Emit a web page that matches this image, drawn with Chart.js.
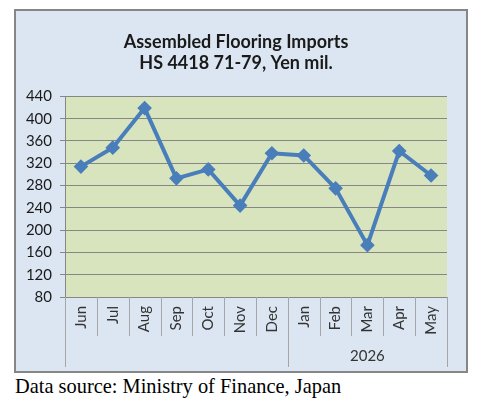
<!DOCTYPE html>
<html>
<head>
<meta charset="utf-8">
<script src="https://cdn.jsdelivr.net/npm/chart.js@4.4.0/dist/chart.umd.min.js"></script>
<style>
  html, body { margin: 0; padding: 0; background: #fff; }
  body { width: 483px; height: 407px; position: relative; overflow: hidden; }
  #box {
    position: absolute; left: 14px; top: 9px;
    width: 450px; height: 360px;
    border: 2px solid #868686;
    background: #dce6f2;
  }
  #note {
    position: absolute; left: 15px; top: 375px;
    font-family: "Liberation Serif", "Times New Roman", serif;
    font-size: 20.4px; color: #000; white-space: nowrap;
  }
</style>
</head>
<body>
<div id="box"><canvas id="importsChart" width="450" height="360"></canvas></div>
<div id="note">Data source: Ministry of Finance, Japan</div>
<script>
// Data
const months = ['Jun', 'Jul', 'Aug', 'Sep', 'Oct', 'Nov', 'Dec', 'Jan', 'Feb', 'Mar', 'Apr', 'May'];
const imports = [314, 348, 419, 293, 309, 244, 338, 334, 275, 173, 342, 298];
const yearGroups = [
  { label: '', from: 0, to: 6 },
  { label: '2026', from: 7, to: 11 }
];

// Plot area background
const plotBackground = {
  id: 'plotBackground',
  beforeDraw(chart) {
    const { ctx, chartArea: a } = chart;
    ctx.save();
    ctx.fillStyle = '#d7e4bd';
    ctx.fillRect(a.left, a.top, a.right - a.left, a.bottom - a.top);
    ctx.restore();
  }
};

// Category separators and the year row under the month labels
const groupedAxis = {
  id: 'groupedAxis',
  afterDraw(chart) {
    const { ctx, chartArea: a } = chart;
    const x = chart.scales.x;
    const half = (x.getPixelForValue(1) - x.getPixelForValue(0)) / 2;
    const edge = i => Math.round(x.getPixelForValue(i) - half) + 0.5;
    ctx.save();
    ctx.strokeStyle = '#a6a6a6';
    ctx.lineWidth = 1;
    ctx.beginPath();
    for (let i = 0; i <= months.length; i++) {
      ctx.moveTo(edge(i), a.bottom);
      ctx.lineTo(edge(i), a.bottom + 39);
    }
    yearGroups.forEach(g => {
      [g.from, g.to + 1].forEach(i => {
        ctx.moveTo(edge(i), a.bottom + 39);
        ctx.lineTo(edge(i), a.bottom + 70);
      });
    });
    ctx.stroke();
    ctx.fillStyle = '#333';
    ctx.font = '15px Lato, "Open Sans", sans-serif';
    ctx.textAlign = 'center';
    ctx.textBaseline = 'middle';
    yearGroups.forEach(g => {
      if (!g.label) return;
      const cx = (x.getPixelForValue(g.from) + x.getPixelForValue(g.to)) / 2;
      ctx.fillText(g.label, cx, a.bottom + 59);
    });
    ctx.restore();
  }
};

new Chart(document.getElementById('importsChart'), {
  type: 'line',
  data: {
    labels: months,
    datasets: [{
      label: 'Imports',
      data: imports,
      borderColor: '#4a7ebb',
      backgroundColor: '#4a7ebb',
      borderWidth: 4,
      tension: 0,
      pointStyle: 'rectRot',
      pointRadius: 4.5,
      pointHoverRadius: 4.5
    }]
  },
  options: {
    responsive: false,
    animation: false,
    layout: { padding: { left: 9, right: 19, top: 0, bottom: 0 } },
    plugins: {
      legend: { display: false },
      tooltip: { enabled: false },
      title: {
        display: true,
        text: ['Assembled Flooring Imports', 'HS 4418 71-79, Yen mil.'],
        color: '#1a1a1a',
        font: { family: 'Lato, "Open Sans", sans-serif', size: 18, weight: 'bold', lineHeight: 1.15 },
        padding: { top: 21, bottom: 23 }
      }
    },
    scales: {
      x: {
        offset: true,
        grid: { display: false, drawTicks: false },
        border: { display: false },
        ticks: {
          color: '#333',
          font: { family: 'Lato, "Open Sans", sans-serif', size: 15 },
          minRotation: 90,
          maxRotation: 90,
          padding: 9,
          autoSkip: false
        },
        afterFit(s) { s.height = 74; }
      },
      y: {
        min: 80,
        max: 440,
        grid: { color: '#868686', lineWidth: 1, tickLength: 5, tickColor: '#868686' },
        border: { display: true, color: '#868686' },
        ticks: {
          stepSize: 40,
          color: '#1a1a1a',
          font: { family: 'Lato, "Open Sans", sans-serif', size: 15 },
          padding: 8
        },
        afterFit(s) { s.width = 40; }
      }
    }
  },
  plugins: [plotBackground, groupedAxis]
});
</script>
</body>
</html>
